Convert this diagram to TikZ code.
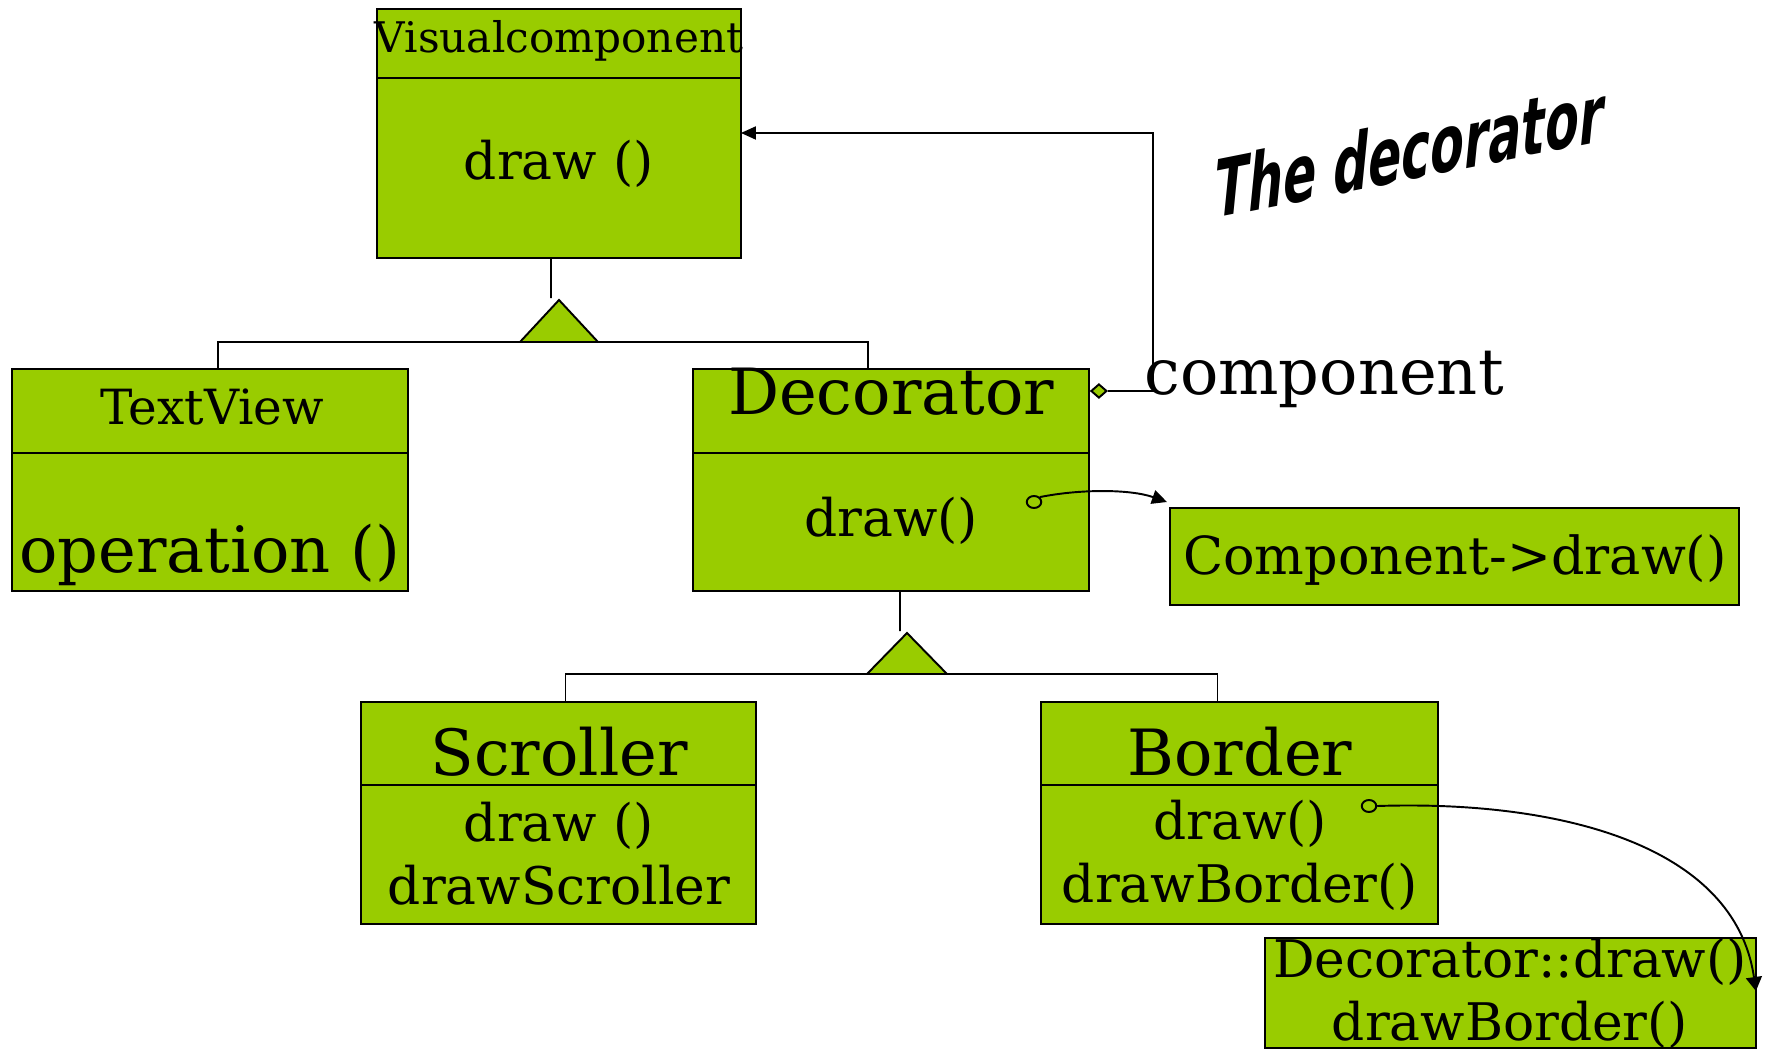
\documentclass[tikz,border=0pt]{standalone}
\usepackage{fontspec}
\setmainfont{DejaVu Serif}
\newfontfamily\titlefont{DejaVu Sans}
\usetikzlibrary{positioning,calc,arrows.meta,shapes.geometric}

\definecolor{umlgreen}{RGB}{153,204,0}

% font sizes for class names, operations and the rest
\newcommand{\namesize}{\fontsize{36.3}{43}\selectfont}
\newcommand{\opsize}{\fontsize{29.5}{35.7}\selectfont}
\newcommand{\headsize}{\fontsize{24}{29}\selectfont}

\tikzset{
	box/.style={draw=black,fill=umlgreen,line width=1.1pt,inner sep=0pt,outer sep=0pt,anchor=north west},
	txt/.style={inner sep=0pt,align=center},
	conn/.style={black,line width=1.1pt},
	hollow/.style={draw,ellipse,line width=1.1pt,inner sep=0pt,minimum width=0.29cm,minimum height=0.24cm},
	aggdiamond/.style={draw,fill=umlgreen,diamond,line width=1.1pt,inner sep=0pt,minimum width=0.32cm,minimum height=0.28cm}
}

\begin{document}
\begin{tikzpicture}[x=0.02cm,y=-0.02cm]

	\useasboundingbox (0,0) rectangle (1773,1051);

	% classes
	\node[box,minimum width=7.28cm,minimum height=1.38cm] (vchead) at (377,9) {};
	\node[box,minimum width=7.28cm,minimum height=3.6cm] (vcbody) at (377,78) {};
	\node[box,minimum width=7.92cm,minimum height=1.68cm] (tvhead) at (12,369) {};
	\node[box,minimum width=7.92cm,minimum height=2.76cm] (tvbody) at (12,453) {};
	\node[box,minimum width=7.92cm,minimum height=1.68cm] (dechead) at (693,369) {};
	\node[box,minimum width=7.92cm,minimum height=2.76cm] (decbody) at (693,453) {};
	\node[box,minimum width=7.9cm,minimum height=1.66cm] (scrhead) at (361,702) {};
	\node[box,minimum width=7.9cm,minimum height=2.78cm] (scrbody) at (361,785) {};
	\node[box,minimum width=7.94cm,minimum height=1.66cm] (bdhead) at (1041,702) {};
	\node[box,minimum width=7.94cm,minimum height=2.78cm] (bdbody) at (1041,785) {};

	% notes
	\node[box,minimum width=11.38cm,minimum height=1.94cm] (cmp) at (1170,508) {};
	\node[box,minimum width=9.82cm,minimum height=2.2cm] (decdraw) at (1265,938) {};

	% texts
	\node[txt,font=\headsize] (vcname) at (559,41) {Visualcomponent};
	\node[txt,font=\opsize] (vcop) at (559,164) {draw ()};
	\node[txt,font=\fontsize{27.6}{33}\selectfont] (tvname) at (212,407) {TextView};
	\node[txt,font=\namesize] (tvop) at (210,555) {operation ()};
	\node[txt,font=\namesize] (decname) at (891,392) {Decorator};
	\node[txt,font=\opsize] (decop) at (891,521) {draw()};
	\node[txt,font=\namesize] (scrname) at (559,752) {Scroller};
	\node[txt,font=\opsize] (scrops) at (559,854) {draw ()\\drawScroller};
	\node[txt,font=\namesize] (bdname) at (1240,752) {Border};
	\node[txt,font=\opsize] (bdops) at (1240,855) {draw()\\drawBorder()};
	\node[txt,font=\fontsize{29.85}{36}\selectfont] (cmptext) at (1455,560) {Component->draw()};
	\node[txt,font=\opsize] (decdrawtext) at (1510,993) {Decorator::draw()\\drawBorder()};
	\node[txt,font=\namesize] (complabel) at (1324,379) {component};

	\node[inner sep=0pt,font=\titlefont\bfseries\fontsize{46}{54}\selectfont,
		cm={0.607,0.121,0.1,1,(0,0)},transform shape] (title) at (1410,150) {The decorator};

	% generalization Visualcomponent
	\coordinate (gen1) at (559,300);
	\draw[conn] ($(vcbody.south)+(-8,0)$) -- ($(gen1)+(-8,-2)$);
	\draw[conn] ($(tvhead.north)+(8,0)$) |- ($(gen1)+(0,42)$) -| ($(dechead.north)+(-23,0)$);
	\draw[conn,fill=umlgreen] (gen1) -- ++(39,42) -- ++(-78,0) -- cycle;

	% generalization Decorator
	\coordinate (gen2) at (907,633);
	\draw[conn] ($(decbody.south)+(9,0)$) -- ($(gen2)+(-7,-2)$);
	\draw[conn] ($(scrhead.north)+(7,0)$) |- ($(gen2)+(0,41)$) -| ($(bdhead.north)+(-22,0)$);
	\draw[conn,fill=umlgreen] (gen2) -- ++(40,41) -- ++(-80,0) -- cycle;

	% aggregation
	\node[aggdiamond,anchor=west] (agg) at ($(dechead.east)+(1,-20)$) {};
	\coordinate (aggbend) at (1153,133);
	\draw[conn,-{Triangle[length=0.3cm,width=0.26cm]}] (agg.east) -| (aggbend) -- ($(vcbody.east)+(0,-35)$);

	% calls
	\node[hollow] (call1) at (1034,502) {};
	\draw[conn,-{Triangle[length=0.3cm,width=0.28cm]}] (call1.north east) .. controls (1080,489) and (1130,489) .. ($(cmp.north west)+(-3,-6)$);
	\node[hollow] (call2) at (1369,806) {};
	\draw[conn,-{Triangle[length=0.28cm,width=0.32cm]}] (call2.east) .. controls (1560,800) and (1735,845) .. ($(decdraw.north east)+(0,53)$);

\end{tikzpicture}
\end{document}
